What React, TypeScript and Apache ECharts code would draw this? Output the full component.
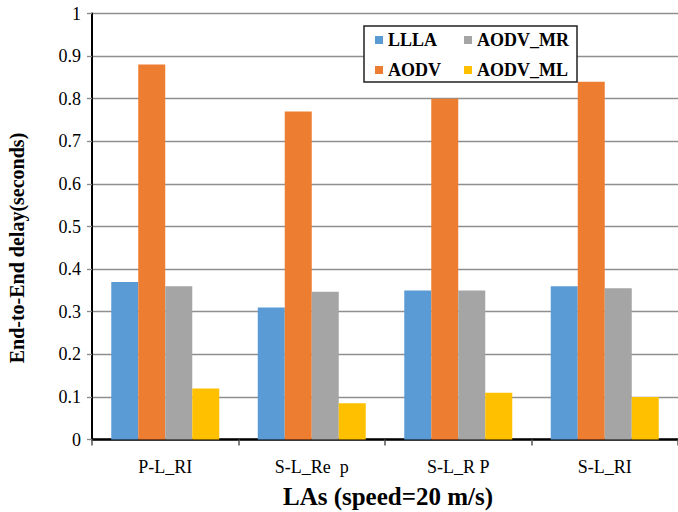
import React, { useEffect, useRef } from "react";
import * as echarts from "echarts";

const categories = ["P-L_RI", "S-L_Re  p", "S-L_R P", "S-L_RI"];
const seriesNames = ["LLLA", "AODV", "AODV_MR", "AODV_ML"];
const llla = [0.37, 0.31, 0.35, 0.36];
const aodv = [0.88, 0.77, 0.8, 0.84];
const aodvMr = [0.36, 0.347, 0.35, 0.355];
const aodvMl = [0.12, 0.085, 0.11, 0.1];
const colors = ["#5B9BD5", "#ED7D31", "#A5A5A5", "#FFC000"];
const yAxisTitle = "End-to-End delay(seconds)";
const xAxisTitle = "LAs (speed=20 m/s)";

const SERIF = '"Liberation Serif", "Times New Roman", serif';

export default function App() {
  const ref = useRef<HTMLDivElement>(null);
  useEffect(() => {
    if (!ref.current) return;
    const chart = echarts.init(ref.current, null, { renderer: "svg" });
    const values = [llla, aodv, aodvMr, aodvMl];
    const legendText = { fontFamily: SERIF, fontWeight: "bold", fontSize: 18, lineHeight: 20, color: "#000" };
    chart.setOption({
      animation: false,
      backgroundColor: "#ffffff",
      grid: { left: 92, right: -3, top: 13.5, bottom: 72.5 },
      legend: [
        {
          data: [seriesNames[0], seriesNames[1]],
          orient: "vertical",
          left: 375,
          top: 30,
          padding: 0,
          itemWidth: 8,
          itemHeight: 8,
          itemGap: 10,
          icon: "rect",
          selectedMode: false,
          z: 10,
          textStyle: legendText,
        },
        {
          data: [seriesNames[2], seriesNames[3]],
          orient: "vertical",
          left: 464,
          top: 30,
          padding: 0,
          itemWidth: 8,
          itemHeight: 8,
          itemGap: 10,
          icon: "rect",
          selectedMode: false,
          z: 10,
          textStyle: legendText,
        },
      ],
      graphic: [
        {
          type: "rect",
          z: 5,
          shape: { x: 364, y: 26, width: 213, height: 56 },
          style: { fill: "#ffffff", stroke: "#222", lineWidth: 1.5 },
        },
        {
          type: "text",
          x: 17,
          y: 248,
          rotation: Math.PI / 2,
          style: {
            text: yAxisTitle,
            font: `bold 20px ${SERIF}`,
            fill: "#000",
            textAlign: "center",
            textVerticalAlign: "middle",
          },
        },
        {
          type: "text",
          x: 388,
          y: 496,
          style: {
            text: xAxisTitle,
            font: `bold 25px ${SERIF}`,
            fill: "#000",
            textAlign: "center",
            textVerticalAlign: "middle",
          },
        },
      ],
      xAxis: {
        type: "category",
        data: categories,
        axisLine: { show: true, lineStyle: { color: "#000", width: 2.5 } },
        axisTick: { show: true, length: 6, lineStyle: { color: "#555", width: 1.5 } },
        axisLabel: { margin: 18, fontFamily: SERIF, fontSize: 18, color: "#000" },
        splitLine: { show: false },
      },
      yAxis: {
        type: "value",
        min: 0,
        max: 1,
        interval: 0.1,
        axisLine: { show: true, lineStyle: { color: "#000", width: 2 } },
        axisTick: { show: true, length: 5, lineStyle: { color: "#888", width: 1.3 } },
        axisLabel: {
          margin: 11,
          fontFamily: SERIF,
          fontSize: 18,
          color: "#000",
          formatter: (v: number) => (v === 0 ? "0" : v === 1 ? "1" : v.toFixed(1)),
        },
        splitLine: { show: true, lineStyle: { color: "#8f8f8f", width: 1.3 } },
      },
      series: seriesNames.map((name, i) => ({
        name,
        type: "bar",
        data: values[i],
        barWidth: 27,
        barGap: "0%",
        itemStyle: { color: colors[i] },
      })),
    });
    return () => chart.dispose();
  }, []);
  return (
    <div
      ref={ref}
      style={{ position: "fixed", left: 0, top: 0, width: 678, height: 512, background: "#fff" }}
    />
  );
}
